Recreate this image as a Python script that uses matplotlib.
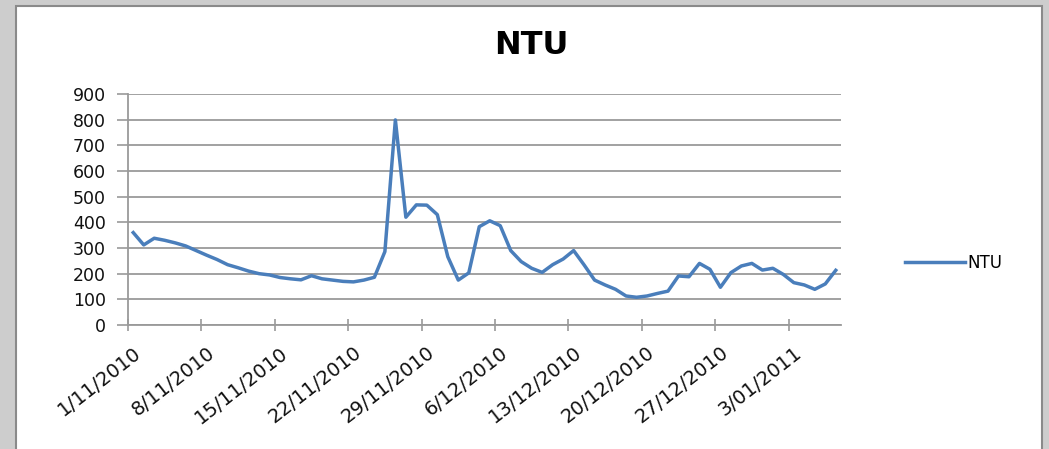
import numpy as np
import pandas as pd
import matplotlib
matplotlib.use("Agg")
import matplotlib.pyplot as plt
import matplotlib.patches as mpatches
import matplotlib.transforms as mtransforms

# daily NTU readings, 1/11/2010 .. 7/01/2011
dates = pd.date_range("2010-11-01", periods=68, freq="D")
ntu = [
    360, 312, 338, 330, 320, 308, 290, 272, 255, 235,
    223, 210, 200, 195, 185, 180, 176, 192, 180, 175,
    170, 168, 175, 186, 286, 799, 420, 468, 467, 430,
    266, 175, 203, 383, 406, 387, 290, 247, 221, 205,
    235, 257, 290, 234, 175, 156, 139, 113, 108, 113,
    123, 132, 191, 188, 240, 217, 147, 204, 230, 240,
    214, 221, 197, 165, 156, 139, 160, 213,
]
tick_dates = dates[::7]
tick_labels = [f"{d.day}/{d.month:02d}/{d.year}" for d in tick_dates]
y_ticks = list(range(0, 1000, 100))

W, H = 1049, 449
fig = plt.figure(figsize=(W / 100, H / 100), dpi=100, facecolor="#cdcdcd")

# white chart area with thin grey frame
panel = mpatches.Rectangle((16 / W, -0.01), (1042 - 16) / W, (H - 6) / H + 0.01,
                           transform=fig.transFigure, facecolor="white",
                           edgecolor="#8a8a8a", linewidth=1.5, zorder=-5)
fig.patches.append(panel)

ax = fig.add_axes([128 / W, (H - 325) / H, (841 - 128) / W, (325 - 94) / H])
ax.set_zorder(2)
ax.set_facecolor("none")

# day index, points sit in the middle of each day slot
x = np.arange(len(ntu)) + 0.5
ax.plot(x, ntu, color="#4a7ebb", linewidth=2.5, label="NTU", zorder=3)

ax.set_xlim(0, len(ntu))
ax.set_ylim(0, 900)
ax.set_yticks(y_ticks)
ax.set_xticks(np.arange(0, len(ntu), 7))
ax.set_xticklabels(tick_labels)

ax.grid(axis="y", color="#9a9a9a", linewidth=1.3)
ax.set_axisbelow(True)
for side in ["top", "right"]:
    ax.spines[side].set_visible(False)
for side in ["left", "bottom"]:
    ax.spines[side].set_color("#9a9a9a")
    ax.spines[side].set_linewidth(1.3)

ax.tick_params(axis="y", length=8, width=1.2, color="#9a9a9a", pad=8,
               labelsize=12.5, labelcolor="#111111")
ax.tick_params(axis="x", direction="inout", length=8, width=1.2, color="#9a9a9a",
               pad=4, labelsize=14, labelcolor="#111111")

offset = mtransforms.ScaledTranslation(5 / 100, -7 / 100, fig.dpi_scale_trans)
for lab in ax.get_xticklabels():
    lab.set_rotation(38)
    lab.set_ha("right")
    lab.set_va("top")
    lab.set_rotation_mode("anchor")
    lab.set_transform(lab.get_transform() + offset)

fig.text(531 / W, (H - 45) / H, "NTU", ha="center", va="center",
         fontsize=23, fontweight="bold")

fig.legend(loc="center left", bbox_to_anchor=(890 / W, (H - 263) / H),
           frameon=False, fontsize=12, handlelength=3.6, handletextpad=0.15)

fig.savefig("out.png", dpi=100, facecolor=fig.get_facecolor())
